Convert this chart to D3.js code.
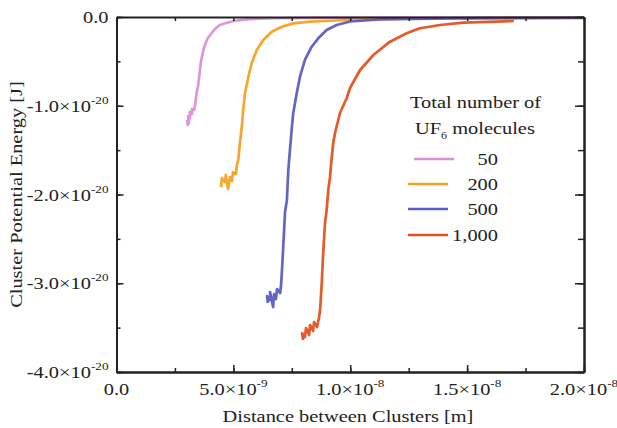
<!DOCTYPE html>
<html>
<head>
<meta charset="utf-8">
<script src="https://cdnjs.cloudflare.com/ajax/libs/d3/7.8.5/d3.min.js"></script>
<style>
  body { margin: 0; background: #fff; }
  svg { display: block; }
  text { font-family: "Liberation Serif", "Times New Roman", serif; fill: #222; }
</style>
</head>
<body>
<div id="chart"></div>
<script>
// data: distance in units of 1e-9 m, energy in units of 1e-20 J
const seriesNames = ["50", "200", "500", "1,000"];
const seriesColors = ["#dc8fd6", "#f6a11c", "#5c5cc2", "#e3521c"];

const curve50 = [
  [3.06,-1.228],[3.02,-1.172],[3.10,-1.195],[3.06,-1.116],[3.14,-1.138],[3.14,-1.070],
  [3.23,-1.093],[3.23,-1.037],[3.32,-1.048],[3.36,-0.992],[3.40,-0.913],[3.44,-0.834],
  [3.49,-0.777],[3.53,-0.687],[3.57,-0.597],[3.61,-0.507],[3.66,-0.439],[3.74,-0.349],
  [3.83,-0.282],[3.91,-0.237],[4.04,-0.192],[4.21,-0.135],[4.42,-0.090],[4.68,-0.068],
  [5.07,-0.042],[5.71,-0.023],[6.78,-0.014],[8.71,-0.009],[12.13,-0.006],[20.0,-0.003]
];
const curve200 = [
  [4.47,-1.916],[4.51,-1.814],[4.64,-1.859],[4.68,-1.780],[4.77,-1.938],[4.86,-1.803],
  [4.94,-1.848],[4.98,-1.747],[5.11,-1.769],[5.15,-1.668],[5.21,-1.611],[5.28,-1.420],
  [5.36,-1.236],[5.42,-1.048],[5.50,-0.856],[5.64,-0.673],[5.78,-0.522],[6.00,-0.372],
  [6.28,-0.259],[6.64,-0.166],[7.07,-0.109],[7.56,-0.072],[8.28,-0.053],[9.13,-0.042],
  [10.42,-0.028],[12.98,-0.017],[16.41,-0.011],[20.0,-0.007]
];
const curve500 = [
  [6.48,-3.223],[6.44,-3.144],[6.57,-3.189],[6.57,-3.099],[6.70,-3.268],[6.74,-3.121],
  [6.82,-3.178],[6.87,-3.065],[7.00,-3.110],[7.04,-3.020],[7.08,-2.851],[7.14,-2.550],
  [7.21,-2.197],[7.29,-2.062],[7.35,-1.724],[7.42,-1.499],[7.50,-1.251],[7.56,-1.085],
  [7.71,-0.860],[7.85,-0.673],[8.06,-0.484],[8.35,-0.335],[8.63,-0.240],[8.99,-0.146],
  [9.42,-0.090],[9.99,-0.051],[11.27,-0.026],[14.27,-0.015],[20.0,-0.009]
];
const curve1000 = [
  [7.98,-3.640],[7.94,-3.561],[8.06,-3.606],[8.11,-3.504],[8.24,-3.583],[8.28,-3.471],
  [8.41,-3.538],[8.45,-3.437],[8.58,-3.493],[8.66,-3.392],[8.71,-3.302],[8.78,-3.001],
  [8.85,-2.625],[8.92,-2.321],[8.99,-2.175],[9.06,-1.949],[9.13,-1.814],[9.21,-1.578],
  [9.27,-1.420],[9.35,-1.307],[9.56,-1.082],[9.85,-0.913],[9.99,-0.800],[10.42,-0.597],
  [10.99,-0.428],[11.70,-0.278],[12.41,-0.184],[12.98,-0.127],[13.84,-0.090],[14.84,-0.064],
  [16.27,-0.051],[17.0,-0.045]
];
const curves = [curve50, curve200, curve500, curve1000];

const xTicks = [0, 5, 10, 15, 20];
const xTickMain = ["0.0", "5.0×10", "1.0×10", "1.5×10", "2.0×10"];
const xTickExp = ["", "-9", "-8", "-8", "-8"];
const yTicks = [0, -1, -2, -3, -4];
const yTickMain = ["0.0", "-1.0×10", "-2.0×10", "-3.0×10", "-4.0×10"];
const yTickExp = ["", "-20", "-20", "-20", "-20"];

const width = 617, height = 428;
const margin = {left: 116.5, right: 33, top: 17, bottom: 56};
const fs = 17;
const sx = 1.2; // horizontal stretch so the Times face fills the wider original type

const svg = d3.select("#chart").append("svg")
  .attr("width", width).attr("height", height);

const x = d3.scaleLinear().domain([0, 20]).range([margin.left, width - margin.right]);
const y = d3.scaleLinear().domain([-4, 0]).range([height - margin.bottom, margin.top]);

// helper: stretched text anchored at (px, py)
function label(px, py, anchor, rot) {
  return svg.append("text")
    .attr("transform", `translate(${px},${py})${rot ? " rotate(" + rot + ")" : ""} scale(${sx},1)`)
    .attr("text-anchor", anchor || "start")
    .attr("font-size", fs);
}

// curves
const line = d3.line().x(d => x(d[0])).y(d => y(d[1]));
curves.forEach((c, i) => {
  svg.append("path")
    .datum(c)
    .attr("d", line)
    .attr("fill", "none")
    .attr("stroke", seriesColors[i])
    .attr("stroke-width", 2.7)
    .attr("stroke-linejoin", "round")
    .attr("stroke-opacity", 0.95);
});

// frame + inward ticks
const minorX = d3.range(0, 20.01, 2.5);
const minorY = d3.range(-4, 0.01, 0.5);

function styleAxis(g) {
  g.selectAll("path.domain").attr("stroke", "#222").attr("stroke-width", 2);
  g.selectAll(".tick line").attr("stroke", "#222").attr("stroke-width", 1.5);
  g.selectAll(".tick text").remove();
}

svg.append("g").attr("transform", `translate(0,${y(-4)})`)
  .call(d3.axisBottom(x).tickValues(minorX).tickSizeInner(-4).tickSizeOuter(0)).call(styleAxis);
svg.append("g").attr("transform", `translate(0,${y(-4)})`)
  .call(d3.axisBottom(x).tickValues(xTicks).tickSizeInner(-7).tickSizeOuter(0)).call(styleAxis);
svg.append("g").attr("transform", `translate(0,${y(0)})`)
  .call(d3.axisTop(x).tickValues(minorX).tickSizeInner(-4).tickSizeOuter(0)).call(styleAxis);
svg.append("g").attr("transform", `translate(${x(0)},0)`)
  .call(d3.axisLeft(y).tickValues(minorY).tickSizeInner(-4).tickSizeOuter(0)).call(styleAxis);
svg.append("g").attr("transform", `translate(${x(0)},0)`)
  .call(d3.axisLeft(y).tickValues(yTicks).tickSizeInner(-7).tickSizeOuter(0)).call(styleAxis);
svg.append("g").attr("transform", `translate(${x(20)},0)`)
  .call(d3.axisRight(y).tickValues(minorY).tickSizeInner(-6).tickSizeOuter(0)).call(styleAxis);
svg.append("g").attr("transform", `translate(${x(20)},0)`)
  .call(d3.axisRight(y).tickValues(yTicks).tickSizeInner(-9).tickSizeOuter(0)).call(styleAxis);

// tick labels with superscripts
xTicks.forEach((v, i) => {
  const t = label(x(v), y(-4) + 23, "middle");
  t.append("tspan").text(xTickMain[i]);
  if (xTickExp[i]) t.append("tspan").attr("font-size", 11).attr("dy", -8).text(xTickExp[i]);
});
yTicks.forEach((v, i) => {
  const t = label(x(0) - 8, y(v) + 6, "end");
  t.append("tspan").text(yTickMain[i]);
  if (yTickExp[i]) t.append("tspan").attr("font-size", 11).attr("dy", -8).text(yTickExp[i]);
});

// axis titles
label(348, 422, "middle").text("Distance between Clusters [m]");
label(22, (y(0) + y(-4)) / 2, "middle", -90).text("Cluster Potential Energy [J]");

// legend
label(410, 108).text("Total number of");
const t2 = label(415, 134);
t2.append("tspan").text("UF");
t2.append("tspan").attr("font-size", 10).attr("dy", 5).text("6");
t2.append("tspan").attr("dy", -5).text(" molecules");

const legendY = [159, 184, 209, 235];
const legendX0 = [414, 408, 408, 408];
seriesNames.forEach((n, i) => {
  svg.append("line")
    .attr("x1", legendX0[i]).attr("x2", legendX0[i] + 40)
    .attr("y1", legendY[i]).attr("y2", legendY[i])
    .attr("stroke", seriesColors[i]).attr("stroke-width", 2.7);
  label(498, legendY[i] + 6, "end").text(n);
});
</script>
</body>
</html>
